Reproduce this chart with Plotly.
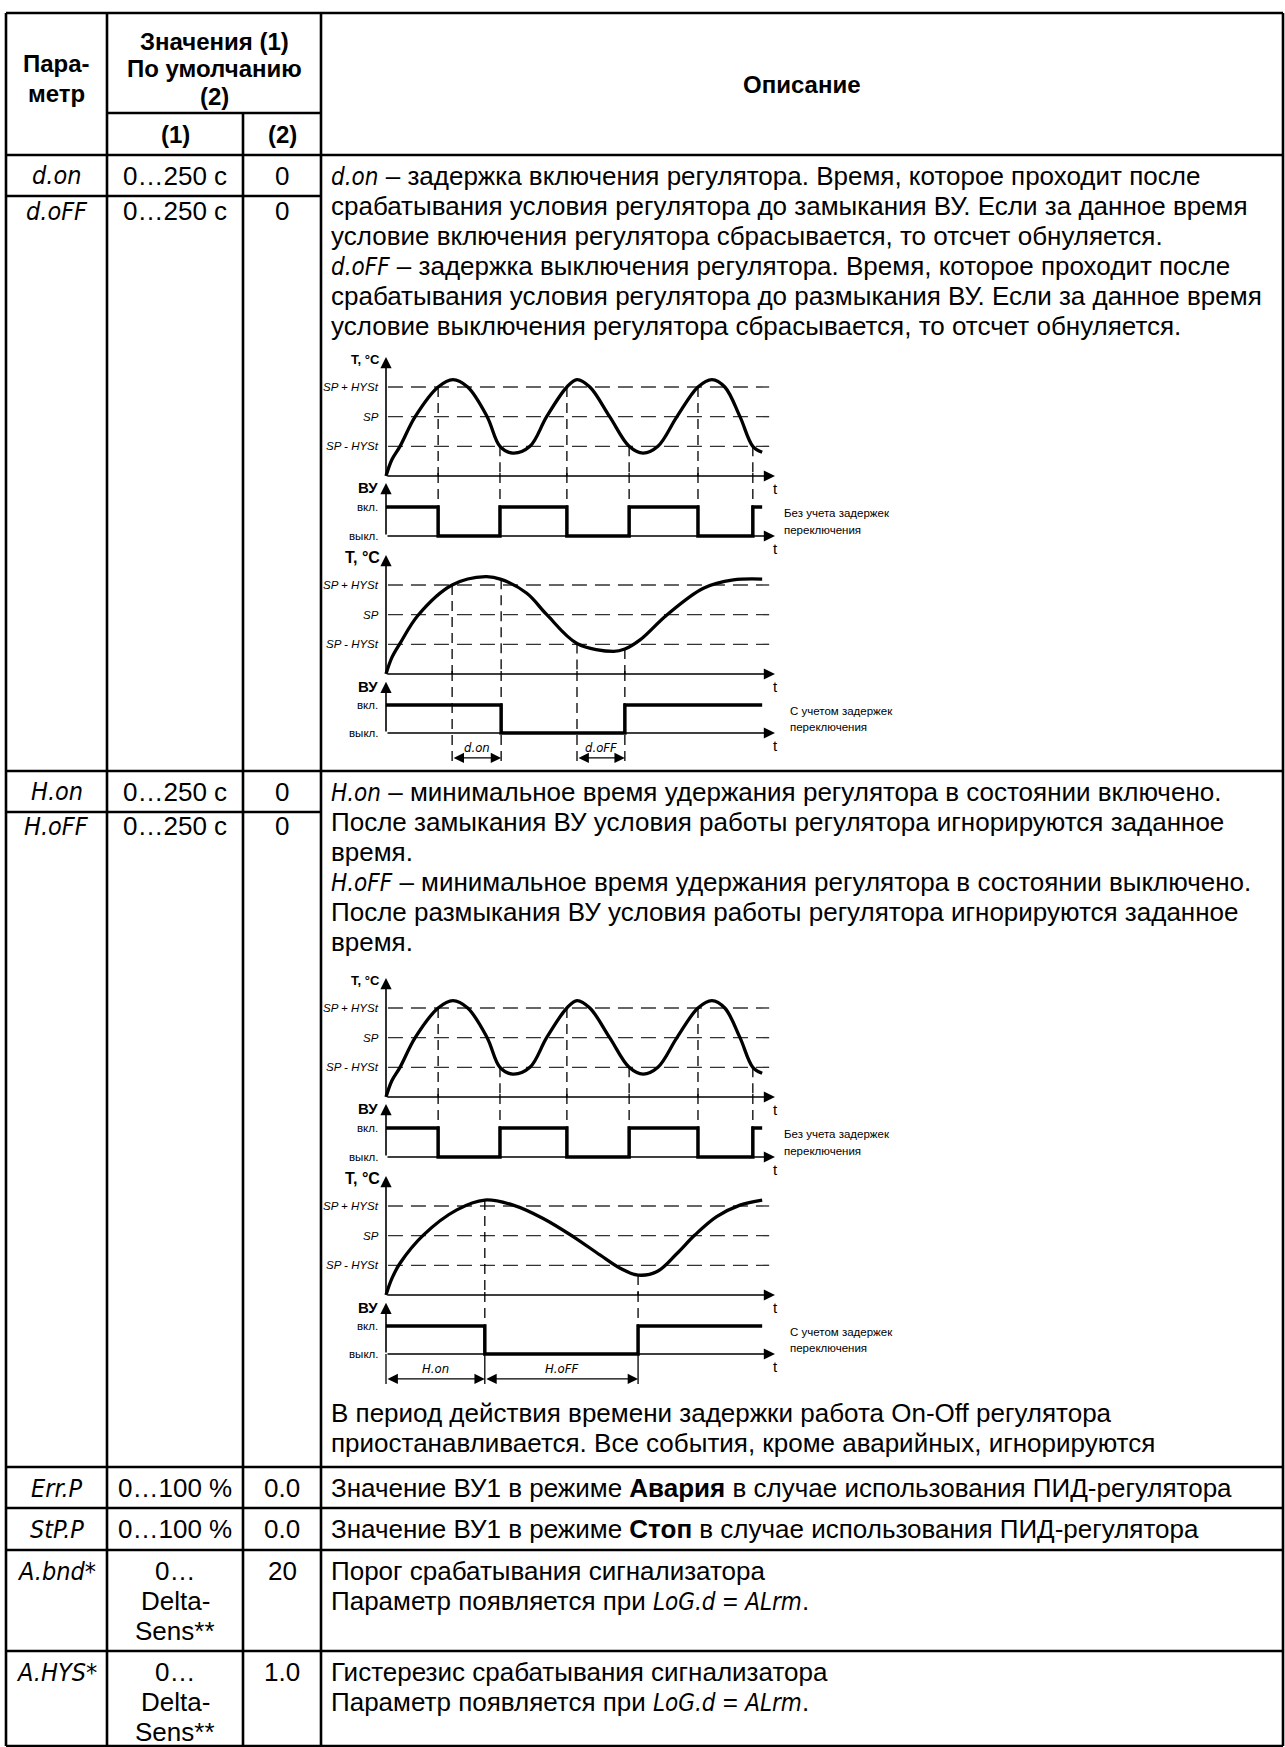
import re
import plotly.graph_objects as go

W, H = 1285, 1747

# ---------------- table content ----------------
header_param = ["Пара-", "метр"]
header_values = ["Значения (1)", "По умолчанию", "(2)"]
header_sub = ["(1)", "(2)"]
header_desc = "Описание"

param_names = ["d.on", "d.oFF", "H.on", "H.oFF", "Err.P", "StP.P", "A.bnd*", "A.HYS*"]
value_ranges = [["0…250 с"], ["0…250 с"], ["0…250 с"], ["0…250 с"],
                ["0…100 %"], ["0…100 %"], ["0…", "Delta-", "Sens**"], ["0…", "Delta-", "Sens**"]]
value_defaults = ["0", "0", "0", "0", "0.0", "0.0", "20", "1.0"]

desc_delay = [
    "{d.on} – задержка включения регулятора. Время, которое проходит после",
    "срабатывания условия регулятора до замыкания ВУ. Если за данное время",
    "условие включения регулятора сбрасывается, то отсчет обнуляется.",
    "{d.oFF} – задержка выключения регулятора. Время, которое проходит после",
    "срабатывания условия регулятора до размыкания ВУ. Если за данное время",
    "условие выключения регулятора сбрасывается, то отсчет обнуляется.",
]
desc_hold = [
    "{H.on} – минимальное время удержания регулятора в состоянии включено.",
    "После замыкания ВУ условия работы регулятора игнорируются заданное",
    "время.",
    "{H.oFF} – минимальное время удержания регулятора в состоянии выключено.",
    "После размыкания ВУ условия работы регулятора игнорируются заданное",
    "время.",
]
desc_hold_tail = [
    "В период действия времени задержки работа On-Off регулятора",
    "приостанавливается. Все события, кроме аварийных, игнорируются",
]
desc_err = ["Значение ВУ1 в режиме <b>Авария</b> в случае использования ПИД-регулятора"]
desc_stp = ["Значение ВУ1 в режиме <b>Стоп</b> в случае использования ПИД-регулятора"]
desc_band = ["Порог срабатывания сигнализатора", "Параметр появляется при {LoG.d} = {ALrm}."]
desc_hys = ["Гистерезис срабатывания сигнализатора", "Параметр появляется при {LoG.d} = {ALrm}."]

# ---------------- diagram content ----------------
# time in arbitrary units (0..100), temperature in levels: 0 = axis, 1 = SP-HYSt, 2 = SP, 3 = SP+HYSt
level_labels = ["SP - HYSt", "SP", "SP + HYSt"]
level_values = [1, 2, 3]
state_labels = ["выкл.", "вкл."]
state_values = [0, 1]
caption_free = ["Без учета задержек", "переключения"]
caption_delayed = ["С учетом задержек", "переключения"]

free_t = [0, 1.5, 3.6, 7.5, 13.4, 17.2, 21.0, 26.0, 29.3, 32.6, 37.0, 41.3, 46.5, 49.1, 52.4,
          57.5, 62.5, 66.1, 69.9, 74.8, 80.2, 83.8, 87.1, 91.0, 94.3, 96.7]
free_T = [0, 0.55, 1.0, 2.0, 3.0, 3.25, 3.0, 2.0, 1.0, 0.77, 1.0, 2.0, 3.0, 3.25, 3.0,
          2.0, 1.0, 0.77, 1.0, 2.0, 3.0, 3.25, 3.0, 2.0, 1.0, 0.8]
free_sw_t = [0, 13.4, 29.3, 46.5, 62.5, 80.2, 94.3, 96.7]
free_sw_state = [1, 0, 1, 0, 1, 0, 1, 1]
free_guide_t = [13.4, 29.3, 46.5, 62.5, 80.2, 94.3]
free_guide_T = [3, 1, 3, 1, 3, 1]

delay_t = [0, 1.5, 3.6, 8.3, 17.0, 25.6, 29.6, 36.2, 41.4, 49.1, 58.5, 61.4, 65.3, 72.2,
           81.6, 89.3, 96.7]
delay_T = [0, 0.55, 1.03, 1.99, 3.0, 3.28, 3.19, 2.72, 1.99, 1.03, 0.76, 0.84, 1.15, 1.99,
           2.89, 3.17, 3.2]
delay_sw_t = [0, 29.6, 61.4, 96.7]
delay_sw_state = [1, 0, 1, 1]
delay_guide_t = [17.0, 29.6, 49.1, 61.4]
delay_guide_T = [3.0, 3.19, 1.03, 0.84]
delay_dim_labels = ["d.on", "d.oFF"]
delay_dim_start = [17.0, 49.1]
delay_dim_end = [29.6, 61.4]

hold_t = [0, 1.5, 3.6, 9.6, 18.2, 25.4, 32.7, 40.4, 48.1, 55.0, 60.2, 64.8, 69.7, 74.8,
          79.4, 85.0, 91.0, 96.7]
hold_T = [0, 0.55, 1.07, 2.02, 2.87, 3.2, 3.03, 2.58, 1.97, 1.35, 0.9, 0.67, 0.79, 1.4,
          2.02, 2.64, 3.03, 3.2]
hold_sw_t = [0, 25.4, 64.8, 96.7]
hold_sw_state = [1, 0, 1, 1]
hold_guide_t = [25.4, 64.8]
hold_guide_T = [3.2, 0.67]
hold_dim_labels = ["H.on", "H.oFF"]
hold_dim_start = [0, 25.4]
hold_dim_end = [25.4, 64.8]

# ---------------- layout constants ----------------
FONT = "Liberation Sans, Arial, sans-serif"
BODY = 26
LINE = 30
LW = 2.6

X_L, X_C1, X_C2, X_C3, X_R = 6, 107, 243, 321, 1283
Y_TOP, Y_SUB, Y_HEAD = 13, 113, 155
Y_DON, Y_BIG1, Y_HON, Y_BIG2 = 196, 771, 812, 1467
Y_ERR, Y_STP, Y_BND, Y_BOT = 1508, 1550, 1651, 1746

X_PAR = (X_L + X_C1) / 2
X_RNG = (X_C1 + X_C2) / 2
X_DEF = (X_C2 + X_C3) / 2
X_DESC = X_C3 + 8

fig = go.Figure()
shapes, annotations = [], []
axes_layout = {}


def seg(s, size=24):
    return ("<i><span style=\"font-family:Liberation Sans Narrow, Arial Narrow, DejaVu Sans Condensed;"
            f"font-size:{size}px\">{s}</span></i>")


def fmt(s, size=24):
    return re.sub(r"\{([^}]*)\}", lambda m: seg(m.group(1), size), s)


def txt(x, y, s, size=BODY, anchor="center", family=FONT, xr="x", yr="y", xshift=0, yshift=0):
    annotations.append(dict(x=x, y=y, xref=xr, yref=yr, text=s, showarrow=False, xanchor=anchor,
                            yanchor="middle", xshift=xshift, yshift=yshift,
                            font=dict(family=family, size=size, color="black")))


def hline(y, x0, x1):
    shapes.append(dict(type="line", xref="x", yref="y", x0=x0, x1=x1, y0=y, y1=y,
                       line=dict(color="black", width=LW)))


def vline(x, y0, y1):
    shapes.append(dict(type="line", xref="x", yref="y", x0=x, x1=x, y0=y0, y1=y1,
                       line=dict(color="black", width=LW)))


# ---------------- table grid ----------------
for yy in [Y_TOP, Y_HEAD, Y_BIG1, Y_BIG2, Y_ERR, Y_STP, Y_BND, Y_BOT]:
    hline(yy, X_L, X_R)
hline(Y_SUB, X_C1, X_C3)
hline(Y_DON, X_L, X_C3)
hline(Y_HON, X_L, X_C3)
for xx in [X_L, X_C1, X_C3, X_R]:
    vline(xx, Y_TOP, Y_BOT)
vline(X_C2, Y_SUB, Y_BOT)

# ---------------- header ----------------
txt(X_PAR, 63, "<b>%s</b>" % header_param[0], 24)
txt(X_PAR, 93, "<b>%s</b>" % header_param[1], 24)
for i, s in enumerate(header_values):
    txt((X_C1 + X_C3) / 2, 41 + 27.5 * i, "<b>%s</b>" % s, 24)
txt(X_RNG, 134.5, "<b>%s</b>" % header_sub[0], 24)
txt(X_DEF, 134.5, "<b>%s</b>" % header_sub[1], 24)
txt((X_C3 + X_R) / 2, 84, "<b>%s</b>" % header_desc, 24)

# ---------------- parameter rows ----------------
row_text_y = [175.5, 211, 791.5, 826, 1488, 1529, 1571, 1672]
SUB_LINE = 30
for name, rng, dflt, yy in zip(param_names, value_ranges, value_defaults, row_text_y):
    txt(X_PAR, yy, seg(name, 25))
    for j, r in enumerate(rng):
        txt(X_RNG, yy + SUB_LINE * j, r)
    txt(X_DEF, yy, dflt)

for j, s in enumerate(desc_delay):
    txt(X_DESC, 175.5 + LINE * j, fmt(s), anchor="left")
for j, s in enumerate(desc_hold):
    txt(X_DESC, 791.5 + LINE * j, fmt(s), anchor="left")
for j, s in enumerate(desc_hold_tail):
    txt(X_DESC, 1413 + LINE * j, s, anchor="left")
txt(X_DESC, 1488, desc_err[0], anchor="left")
txt(X_DESC, 1529, desc_stp[0], anchor="left")
for j, s in enumerate(desc_band):
    txt(X_DESC, 1571 + SUB_LINE * j, fmt(s), anchor="left")
for j, s in enumerate(desc_hys):
    txt(X_DESC, 1672 + SUB_LINE * j, fmt(s), anchor="left")

# ---------------- diagrams ----------------
PX_AX = 386.0
PX_PER_T = 3.89
PX_L, PX_R = 322, 905
T_MIN = (PX_L - PX_AX) / PX_PER_T
T_MAX = (PX_R - PX_AX) / PX_PER_T


def panel(idx, zero_px, ppu, top_px, bot_px):
    axes_layout["xaxis%d" % idx] = dict(domain=[PX_L / W, PX_R / W], range=[T_MIN, T_MAX],
                                        visible=False, anchor="y%d" % idx, fixedrange=True)
    axes_layout["yaxis%d" % idx] = dict(domain=[1 - bot_px / H, 1 - top_px / H],
                                        range=[(zero_px - bot_px) / ppu, (zero_px - top_px) / ppu],
                                        visible=False, anchor="x%d" % idx, fixedrange=True)
    return "x%d" % idx, "y%d" % idx, (zero_px - top_px) / ppu, (zero_px - bot_px) / ppu


def trace(xr, yr, xs, ys, width=1.3, dash=None, shape="linear", color="black"):
    ln = dict(color=color, width=width, shape=shape)
    if dash:
        ln["dash"] = dash
    fig.add_trace(go.Scatter(x=xs, y=ys, xaxis=xr, yaxis=yr, mode="lines", line=ln,
                             hoverinfo="skip", showlegend=False))


def arrow(xr, yr, x0, y0, x1, y1, width=1.6, size=1.4, both=False):
    d = dict(xref=xr, yref=yr, axref=xr, ayref=yr, x=x1, y=y1, ax=x0, ay=y0, text="",
             showarrow=True, arrowhead=2, arrowsize=size, arrowwidth=width, arrowcolor="black")
    if both:
        d.update(arrowside="end+start", startarrowhead=2, startarrowsize=size)
    annotations.append(d)


T_PPU = 29.67
GDASH = "10px,6px"
LDASH = "15px,8px"
idx = 2

diagrams = [
    dict(sp=387, lt=delay_t, lT=delay_T, lsw=delay_sw_t, lst=delay_sw_state, gt=delay_guide_t,
         gT=delay_guide_T, dl=delay_dim_labels, d0=delay_dim_start, d1=delay_dim_end, solid=False),
    dict(sp=1008, lt=hold_t, lT=hold_T, lsw=hold_sw_t, lst=hold_sw_state, gt=hold_guide_t,
         gT=hold_guide_T, dl=hold_dim_labels, d0=hold_dim_start, d1=hold_dim_end, solid=True),
]

for dg in diagrams:
    sp = dg["sp"]
    xT1, yT1, T1top, _ = panel(idx, sp + 89, T_PPU, sp - 40, sp + 92)
    xV1, yV1, V1top, _ = panel(idx + 1, sp + 149, 29.0, sp + 86, sp + 152)
    xT2, yT2, T2top, _ = panel(idx + 2, sp + 287, T_PPU, sp + 146, sp + 290)
    xV2, yV2, V2top, V2bot = panel(idx + 3, sp + 346, 28.0, sp + 284, sp + 388)
    idx += 4

    for (xa, ya, curve_t, curve_T, sw_t, sw_s, g_t, g_T, vx, vy, vtop, lowest, caption, cap_x, tsize) in [
        (xT1, yT1, free_t, free_T, free_sw_t, free_sw_state, free_guide_t, free_guide_T,
         xV1, yV1, V1top, 0, caption_free, 101.8, 13),
        (xT2, yT2, dg["lt"], dg["lT"], dg["lsw"], dg["lst"], dg["gt"], dg["gT"],
         xV2, yV2, V2top, -1.07, caption_delayed, 103.3, 16),
    ]:
        # temperature panel
        for lv, lab in zip(level_values, level_labels):
            trace(xa, ya, [0.5, 98.5], [lv, lv], width=1.4, dash=LDASH, color="#333333")
            txt(0, lv, "<i>%s</i>" % lab, 11.5, anchor="right", xr=xa, yr=ya, xshift=-5)
        for gt, gT in zip(g_t, g_T):
            trace(xa, ya, [gt, gt], [gT, 0], width=1.3, dash=GDASH)
        trace(xa, ya, curve_t, curve_T, width=3.3, shape="spline")
        arrow(xa, ya, 0, 0, 0, 4.01)
        arrow(xa, ya, 0, 0, 100, 0)
        txt(0, 3.93, "<b>T, °C</b>", tsize, anchor="right", xr=xa, yr=ya, xshift=-4)
        txt(100, 0, "t", 15, xr=xa, yr=ya, yshift=-12)
        # switching output panel
        for gt in g_t:
            trace(vx, vy, [gt, gt], [vtop, 0 if dg["solid"] and lowest < 0 else lowest],
                  width=1.3, dash=GDASH)
        trace(vx, vy, sw_t, sw_s, width=3.5, shape="hv")
        arrow(vx, vy, 0, 0, 0, 1.83)
        arrow(vx, vy, 0, 0, 100, 0)
        txt(0, 1.66, "<b>ВУ</b>", 15, anchor="right", xr=vx, yr=vy, xshift=-6)
        for sv, sl in zip(state_values, state_labels):
            txt(0, sv, sl, 11.5, anchor="right", xr=vx, yr=vy, xshift=-6)
        txt(100, 0, "t", 15, xr=vx, yr=vy, yshift=-12)
        txt(cap_x, 0.8, caption[0], 11.5, anchor="left", xr=vx, yr=vy)
        txt(cap_x, 0.22, caption[1], 11.5, anchor="left", xr=vx, yr=vy)

    # dimension arrows under the delayed switching output
    if dg["solid"]:
        for tk in sorted(set(dg["d0"] + dg["d1"])):
            trace(xV2, yV2, [tk, tk], [0, -1.07], width=1.3)
    for lab, a0, a1 in zip(dg["dl"], dg["d0"], dg["d1"]):
        arrow(xV2, yV2, a0, -0.89, a1, -0.89, width=1.3, size=1.6, both=True)
        txt((a0 + a1) / 2, -0.52, seg(lab, 13), 13, xr=xV2, yr=yV2)

fig.update_layout(
    width=W, height=H, margin=dict(l=0, r=0, t=0, b=0),
    paper_bgcolor="white", plot_bgcolor="rgba(0,0,0,0)", showlegend=False,
    xaxis=dict(range=[0, W], domain=[0, 1], visible=False, fixedrange=True),
    yaxis=dict(range=[H, 0], domain=[0, 1], visible=False, fixedrange=True),
    shapes=shapes, annotations=annotations,
    **axes_layout,
)

fig.write_html("out.html", config={"displayModeBar": False},
               post_script="document.body.style.margin='0';")
